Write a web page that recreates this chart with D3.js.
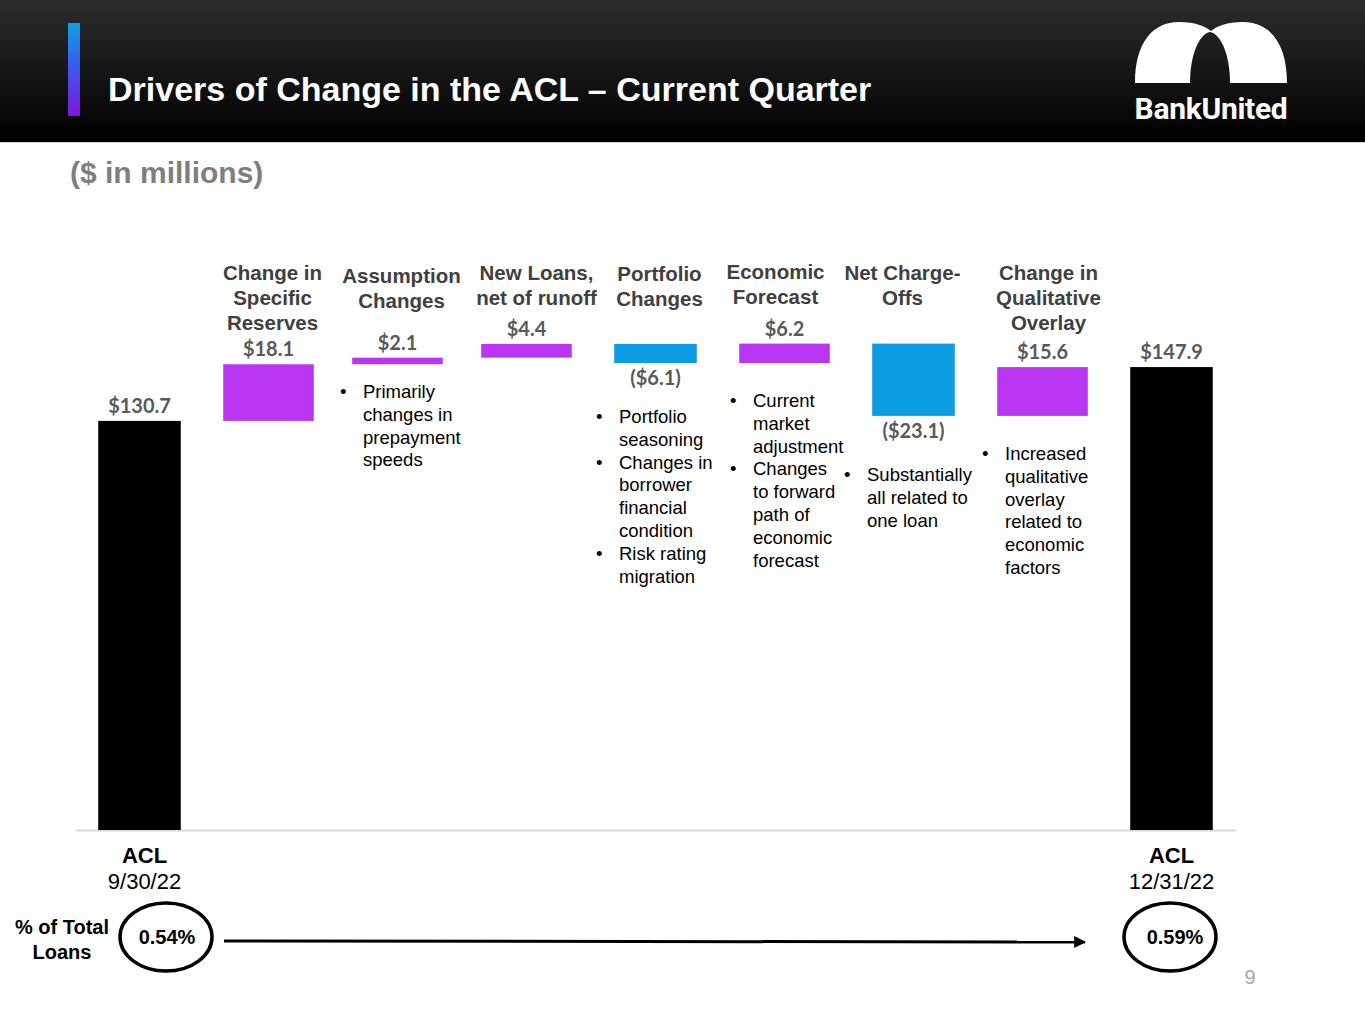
<!DOCTYPE html>
<html>
<head>
<meta charset="utf-8">
<script src="https://cdn.jsdelivr.net/npm/d3@7"></script>
<style>
  body { margin: 0; background: #fff; }
  svg { display: block; }
  .hdr { font-family: "Liberation Sans", Arial, sans-serif; font-weight: bold; fill: #404040; }
  .note { font-family: "Liberation Sans", Arial, sans-serif; fill: #000; }
  .val { font-family: Lato, "Open Sans", sans-serif; font-weight: bold; fill: #595959; }
</style>
</head>
<body>
<svg id="chart" width="1365" height="1024"></svg>
<script>
// chart values
var categories = ['ACL 9/30/22', 'Specific Reserves', 'Assumption Changes', 'New Loans',
  'Portfolio Changes', 'Economic Forecast', 'Net Charge-Offs', 'Qualitative Overlay', 'ACL 12/31/22'];
var kinds = ['total', 'delta', 'delta', 'delta', 'delta', 'delta', 'delta', 'delta', 'total'];
var values = [130.7, 18.1, 2.1, 4.4, -6.1, 6.2, -23.1, 15.6, 147.9];
var valueLabels = ['$130.7', '$18.1', '$2.1', '$4.4', '($6.1)', '$6.2', '($23.1)', '$15.6', '$147.9'];
var headers = [
  [],
  ['Change in', 'Specific', 'Reserves'],
  ['Assumption', 'Changes'],
  ['New Loans,', 'net of runoff'],
  ['Portfolio', 'Changes'],
  ['Economic', 'Forecast'],
  ['Net Charge-', 'Offs'],
  ['Change in', 'Qualitative', 'Overlay'],
  []
];
var notes = [
  [],
  [],
  [['Primarily', 'changes in', 'prepayment', 'speeds']],
  [],
  [['Portfolio', 'seasoning'], ['Changes in', 'borrower', 'financial', 'condition'], ['Risk rating', 'migration']],
  [['Current', 'market', 'adjustment'], ['Changes', 'to forward', 'path of', 'economic', 'forecast']],
  [['Substantially', 'all related to', 'one loan']],
  [['Increased', 'qualitative', 'overlay', 'related to', 'economic', 'factors']],
  []
];
var endLabels = [['ACL', '9/30/22'], ['ACL', '12/31/22']];
var pctLoans = ['0.54%', '0.59%'];

// layout tweaks (pixels)
var headerDx = [0, 4, 4, 10, 4, -9, -11, 6, 0];
var headerTop = [0, 280, 283, 280, 281, 279, 280, 280, 0];
var noteTop = [0, 0, 398, 0, 423, 407, 481, 460, 0];
var bulletX = [0, 0, 340, 0, 596, 730, 844, 982, 0];

var purple = '#bb36f2';
var blue = '#0b9ce3';

var svg = d3.select('#chart');
var defs = svg.append('defs');

// header band
var g1 = defs.append('linearGradient').attr('id', 'hdrGrad')
  .attr('gradientUnits', 'userSpaceOnUse')
  .attr('x1', 0).attr('y1', 0).attr('x2', 0).attr('y2', 142);
g1.append('stop').attr('offset', '0%').attr('stop-color', '#2c2c2f');
g1.append('stop').attr('offset', '100%').attr('stop-color', '#000');
var g2 = defs.append('linearGradient').attr('id', 'accGrad')
  .attr('x1', 0).attr('y1', 0).attr('x2', 0).attr('y2', 1);
g2.append('stop').attr('offset', '0%').attr('stop-color', '#0aa3e0');
g2.append('stop').attr('offset', '45%').attr('stop-color', '#3a5cf0');
g2.append('stop').attr('offset', '100%').attr('stop-color', '#7c16dc');
defs.append('marker').attr('id', 'arrow')
  .attr('viewBox', '0 0 10 10').attr('refX', 9).attr('refY', 5)
  .attr('markerWidth', 4).attr('markerHeight', 4).attr('orient', 'auto')
  .append('path').attr('d', 'M0,0L10,5L0,10z').attr('fill', '#000');

svg.append('rect').attr('x', 0).attr('y', 0).attr('width', 1365).attr('height', 142)
  .attr('fill', 'url(#hdrGrad)');
svg.append('line').attr('x1', 0).attr('x2', 1365).attr('y1', 142.5).attr('y2', 142.5)
  .attr('stroke', '#d0d0d0').attr('stroke-width', 1);
svg.append('rect').attr('x', 68).attr('y', 23).attr('width', 12).attr('height', 93)
  .attr('fill', 'url(#accGrad)');
svg.append('text').attr('x', 108).attr('y', 101)
  .style('font-family', '"Liberation Sans", Arial, sans-serif')
  .style('font-weight', 'bold').style('font-size', '34px').attr('fill', '#fff')
  .text('Drivers of Change in the ACL \u2013 Current Quarter');

// logo
var logo = svg.append('g');
logo.append('path')
  .attr('d', 'M1135,83 C1135,42 1153,22 1179,22 C1195,22 1205,26 1211,31 ' +
    'C1217,26 1227,22 1243,22 C1269,22 1287,42 1287,83 Z')
  .attr('fill', '#fff');
logo.append('path')
  .attr('d', 'M1190,83 C1190,55 1199,34 1210,32 C1221,34 1230,55 1230,83 Z')
  .attr('fill', 'url(#hdrGrad)');
logo.append('text').attr('x', 1211).attr('y', 119).attr('text-anchor', 'middle')
  .style('font-family', 'Roboto, "Liberation Sans", sans-serif').style('font-weight', 'bold')
  .style('font-size', '30px').style('letter-spacing', '-0.3px').attr('fill', '#fff')
  .text('BankUnited');

svg.append('text').attr('x', 70).attr('y', 183)
  .style('font-family', '"Liberation Sans", Arial, sans-serif')
  .style('font-weight', 'bold').style('font-size', '30px').attr('fill', '#7f7f7f')
  .text('($ in millions)');

// waterfall data
var data = [];
var run = 0;
categories.forEach(function(c, i) {
  var d = { cat: c, kind: kinds[i], value: values[i], label: valueLabels[i], i: i };
  if (d.kind === 'total') {
    d.start = 0; d.end = d.value; run = d.value;
  } else {
    d.start = run; d.end = run + d.value; run = d.end;
  }
  data.push(d);
});

var x = d3.scaleBand().domain(categories).range([75, 1236])
  .paddingInner(0.36).paddingOuter(0.18);
var y = d3.scaleLinear().domain([0, 160]).range([830, 830 - 160 * 3.13]);

// baseline axis
var axis = svg.append('g').attr('transform', 'translate(0,' + y(0) + ')')
  .call(d3.axisBottom(x).tickValues([]).tickSizeOuter(0));
axis.select('.domain').attr('stroke', '#d9d9d9').attr('stroke-width', 2);

function barColor(d) {
  if (d.kind === 'total') return '#000';
  return d.value >= 0 ? purple : blue;
}
function barWidth(d) {
  return (d.kind === 'delta' && d.value > 0) ? x.bandwidth() + 8 : x.bandwidth();
}
function cx(d) { return x(d.cat) + x.bandwidth() / 2; }

svg.selectAll('rect.bar').data(data).enter().append('rect')
  .classed('bar', true)
  .attr('x', function(d) { return cx(d) - barWidth(d) / 2; })
  .attr('y', function(d) { return y(Math.max(d.start, d.end)); })
  .attr('width', barWidth)
  .attr('height', function(d) { return Math.abs(y(d.start) - y(d.end)); })
  .attr('fill', barColor);

svg.selectAll('text.val').data(data).enter().append('text')
  .classed('val', true)
  .attr('x', cx)
  .attr('y', function(d) {
    if (d.value < 0) return y(Math.min(d.start, d.end)) + 22;
    return y(Math.max(d.start, d.end)) - 8;
  })
  .attr('text-anchor', 'middle').style('font-size', '20px')
  .text(function(d) { return d.label; });

// category headers
data.forEach(function(d) {
  var t = svg.append('text').classed('hdr', true)
    .attr('text-anchor', 'middle').style('font-size', '20.5px')
    .attr('x', cx(d) + headerDx[d.i]).attr('y', headerTop[d.i]);
  headers[d.i].forEach(function(line, k) {
    t.append('tspan').attr('x', cx(d) + headerDx[d.i]).attr('dy', k === 0 ? 0 : 25).text(line);
  });
});

// bullet notes
data.forEach(function(d) {
  var groups = notes[d.i];
  if (!groups.length) return;
  var bx = bulletX[d.i];
  var lineY = noteTop[d.i];
  groups.forEach(function(lines) {
    svg.append('text').classed('note', true).style('font-size', '18.5px')
      .attr('x', bx).attr('y', lineY).text('\u2022');
    lines.forEach(function(line) {
      svg.append('text').classed('note', true).style('font-size', '18.5px')
        .attr('x', bx + 23).attr('y', lineY).text(line);
      lineY += 22.8;
    });
  });
});

// end labels and percent of loans
var ends = [data[0], data[data.length - 1]];
ends.forEach(function(d, k) {
  var c = cx(d) + (k === 0 ? 5 : 0);
  svg.append('text').attr('x', c).attr('y', 863).attr('text-anchor', 'middle')
    .style('font-family', '"Liberation Sans", Arial, sans-serif').style('font-weight', 'bold')
    .style('font-size', '22px').text(endLabels[k][0]);
  svg.append('text').attr('x', c).attr('y', 889).attr('text-anchor', 'middle')
    .style('font-family', '"Liberation Sans", Arial, sans-serif')
    .style('font-size', '22px').text(endLabels[k][1]);
});

var circX = [166, 1170];
circX.forEach(function(c, k) {
  svg.append('ellipse').attr('cx', c).attr('cy', 937).attr('rx', 46).attr('ry', 34)
    .attr('fill', 'none').attr('stroke', '#000').attr('stroke-width', 3.5);
  svg.append('text').attr('x', c + (k === 0 ? 1 : 5)).attr('y', 944).attr('text-anchor', 'middle')
    .style('font-family', '"Liberation Sans", Arial, sans-serif').style('font-weight', 'bold')
    .style('font-size', '20px').text(pctLoans[k]);
});

svg.append('text').attr('x', 62).attr('y', 934).attr('text-anchor', 'middle')
  .style('font-family', '"Liberation Sans", Arial, sans-serif').style('font-weight', 'bold')
  .style('font-size', '20px')
  .call(function(t) {
    t.append('tspan').attr('x', 62).text('% of Total');
    t.append('tspan').attr('x', 62).attr('dy', 25).text('Loans');
  });

svg.append('line').attr('x1', 224).attr('y1', 941).attr('x2', 1085).attr('y2', 942)
  .attr('stroke', '#000').attr('stroke-width', 3).attr('marker-end', 'url(#arrow)');

svg.append('text').attr('x', 1250).attr('y', 984).attr('text-anchor', 'middle')
  .style('font-family', '"Liberation Sans", Arial, sans-serif')
  .style('font-size', '20px').attr('fill', '#a6a6a6').text('9');
</script>
</body>
</html>
